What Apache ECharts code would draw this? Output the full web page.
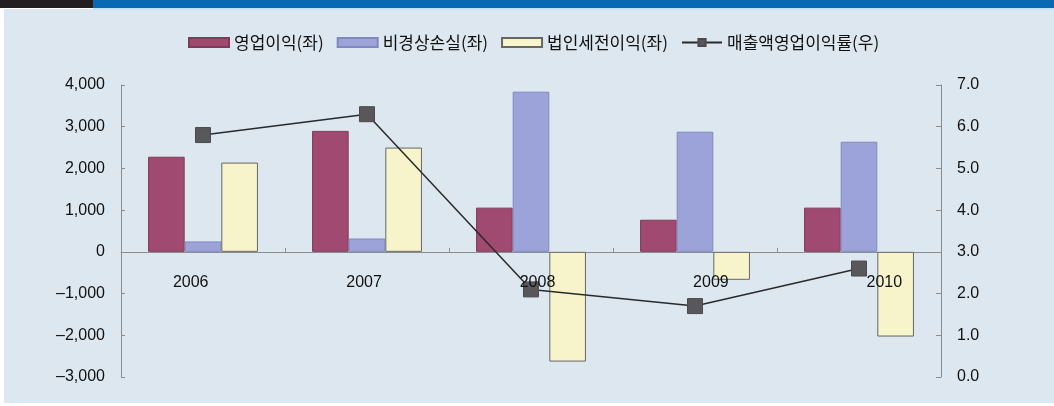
<!DOCTYPE html>
<html><head><meta charset="utf-8">
<script src="https://cdn.jsdelivr.net/npm/echarts@6/dist/echarts.min.js"></script>
<style>html,body{margin:0;padding:0;background:#fff}#c{width:1054px;height:406px}</style>
</head><body><div id="c"></div>
<script>
const years = ['2006','2007','2008','2009','2010'];
const operatingProfit = [2280, 2900, 1060, 770, 1060];
const nonOperatingLoss = [250, 320, 3840, 2880, 2640];
const pretaxProfit = [2140, 2500, -2630, -670, -2030];
const operatingMargin = [5.8, 6.3, 2.1, 1.7, 2.6];
const seriesNames = ['영업이익(좌)', '비경상손실(좌)', '법인세전이익(좌)', '매출액영업이익률(우)'];

const chart = echarts.init(document.getElementById('c'));
const numFont = "'Liberation Sans', Arial, sans-serif";
const krFont = "'Noto Sans CJK KR', sans-serif";
function fmtLeft(v){ const s = Math.abs(v).toLocaleString('en-US'); return v < 0 ? '\u2013' + s : s; }

chart.setOption({
  backgroundColor: '#ffffff',
  animation: false,
  graphic: [
    {type:'rect', shape:{x:4,y:9,width:1050,height:394}, style:{fill:'#dde7f0'}, z:-10},
    {type:'rect', shape:{x:0,y:0,width:93,height:8}, style:{fill:'#231f20'}, z:-5},
    {type:'rect', shape:{x:93,y:0,width:961,height:8}, style:{fill:'#0a69b2'}, z:-5},
    {type:'rect', shape:{x:93,y:8,width:961,height:2}, style:{fill:'#c4e3f6'}, z:-5}
  ],
  legend: {
    left: 183, top: 29,
    itemWidth: 40, itemHeight: 9, itemGap: 13,
    textStyle: {fontFamily: krFont, fontSize: 17, color: '#111'},
    data: [
      {name: seriesNames[0], icon: 'rect'},
      {name: seriesNames[1], icon: 'rect'},
      {name: seriesNames[2], icon: 'rect'},
      {name: seriesNames[3]}
    ]
  },
  grid: [
    {left: 121, right: 113, top: 85, bottom: 29},
    {left: 104, right: 83, top: 85, bottom: 154}
  ],
  xAxis: [
    {type: 'category', data: years, gridIndex: 0,
     axisLine: {onZero: true, lineStyle: {color: '#8a8d90', width: 1}},
     axisTick: {show: true, inside: true, length: 4, lineStyle: {color: '#8a8d90'}},
     axisLabel: {show: false}},
    {type: 'category', data: years, gridIndex: 1, position: 'bottom', z: 20,
     axisLine: {show: false}, axisTick: {show: false},
     axisLabel: {margin: 23, fontFamily: numFont, fontSize: 16, color: '#111'}}
  ],
  yAxis: [
    {type: 'value', gridIndex: 0, min: -3000, max: 4000, interval: 1000,
     axisLine: {show: true, onZero: false, lineStyle: {color: '#8a8d90'}},
     axisTick: {show: true, inside: true, length: 4, lineStyle: {color: '#8a8d90'}},
     splitLine: {show: false},
     axisLabel: {margin: 16, fontFamily: numFont, fontSize: 16, color: '#111', formatter: fmtLeft}},
    {type: 'value', gridIndex: 0, position: 'right', min: 0, max: 7, interval: 1,
     axisLine: {show: true, onZero: false, lineStyle: {color: '#8a8d90'}},
     axisTick: {show: true, inside: true, length: 5, lineStyle: {color: '#8a8d90'}},
     splitLine: {show: false},
     axisLabel: {margin: 16, fontFamily: numFont, fontSize: 16, color: '#111', formatter: v => v.toFixed(1)}},
    {type: 'value', gridIndex: 1, show: false, min: 0, max: 1}
  ],
  series: [
    {name: seriesNames[0], type: 'bar', data: operatingProfit, barGap: '0%', barCategoryGap: '33%',
     itemStyle: {color: '#a04a72', borderColor: '#7f3a5a', borderWidth: 1}},
    {name: seriesNames[1], type: 'bar', data: nonOperatingLoss, barGap: '0%', barCategoryGap: '33%',
     itemStyle: {color: '#9ba3d8', borderColor: '#8088bc', borderWidth: 1}},
    {name: seriesNames[2], type: 'bar', data: pretaxProfit, barGap: '0%', barCategoryGap: '33%',
     itemStyle: {color: '#f7f4cc', borderColor: '#666666', borderWidth: 1}},
    {name: seriesNames[3], type: 'line', yAxisIndex: 1, data: operatingMargin,
     symbol: 'rect', symbolSize: 15,
     lineStyle: {color: '#2a2a2a', width: 1.5},
     itemStyle: {color: '#58585b', borderColor: '#4a4a4d', borderWidth: 1}, z: 5}
  ]
});
</script></body></html>
